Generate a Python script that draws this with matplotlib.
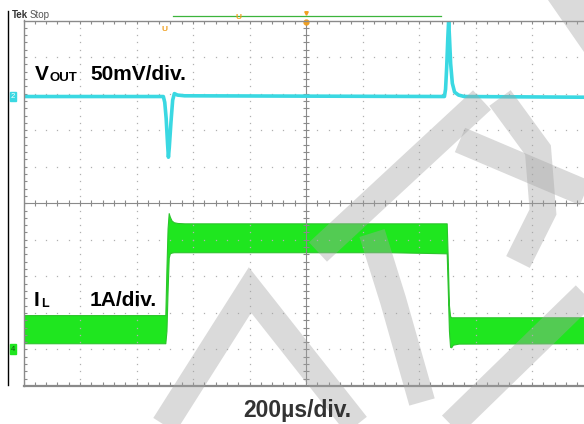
import numpy as np
import matplotlib.pyplot as plt
from matplotlib.lines import Line2D
from matplotlib.patches import Polygon

plt.rcParams['font.family'] = ['Liberation Sans', 'DejaVu Sans']

# scope settings
t_per_div = 200.0      # us/div
v_per_div = 50.0       # mV/div (ch2)
i_per_div = 1.0        # A/div  (ch4)
ch2_offset = 2.92      # div, ground marker of VOUT
ch4_offset = -3.99     # div, ground marker of IL

# VOUT trace (us, mV)
vout_t = [-1000, -505, -500, -495, -490, -487, -484, -478, -472, -466, -455, -430,
          490, 494, 498, 502, 505, 508, 512, 518, 526, 540, 560, 1000]
vout_mv = [0, 0, -8, -30, -65, -83, -70, -35, -5, 4, 2, 1,
           0, 10, 40, 80, 104, 80, 45, 18, 6, 2, 0, -1]

# IL ripple envelope (us, A)
il_t = [-1000, -498, -494, -490, -486, -482, -476, -468, -455, -430, 0, 300,
        498, 502, 506, 510, 514, 520, 540, 1000]
il_hi = [0.93, 0.93, 2.2, 3.3, 3.72, 3.62, 3.52, 3.47, 3.45, 3.44, 3.44, 3.44,
         3.44, 2.4, 1.2, 0.9, 0.87, 0.87, 0.87, 0.87]
il_lo = [0.16, 0.16, 0.5, 1.6, 2.5, 2.62, 2.64, 2.65, 2.65, 2.65, 2.65, 2.65,
         2.62, 1.6, 0.5, 0.06, 0.05, 0.12, 0.15, 0.16]

W, H = 584, 424
fig = plt.figure(figsize=(W / 100, H / 100), dpi=100)
ax = fig.add_axes([23.5 / W, 38 / H, 565 / W, 365.5 / H])
ax.set_xlim(-5, 5)
ax.set_ylim(-5, 5)
ax.set_xticks([])
ax.set_yticks([])
for s in ax.spines.values():
    s.set_color('#8a8a8a')
    s.set_linewidth(1.0)
ax.spines['bottom'].set_linewidth(1.6)

# graticule: dotted lines at each division, dots every 1/5 div
grey = '#b0b0b0'
sub = np.arange(-5, 5.01, 0.2)
for k in range(-4, 5):
    if k == 0:
        continue
    ax.plot(sub, np.full_like(sub, k), ls='none', marker='s', ms=0.9, color=grey, mec='none')
    ax.plot(np.full_like(sub, k), sub, ls='none', marker='s', ms=0.9, color=grey, mec='none')
# centre cross with minor ticks
ax.axhline(0, color='#8a8a8a', lw=0.8)
ax.axvline(0, color='#8a8a8a', lw=0.8)
ax.plot(sub, np.zeros_like(sub), ls='none', marker='|', ms=4, mew=0.8, color='#8a8a8a')
ax.plot(np.zeros_like(sub), sub, ls='none', marker='_', ms=4, mew=0.8, color='#8a8a8a')
# border ticks
ax.plot(sub, np.full_like(sub, 4.95), ls='none', marker='|', ms=3, mew=0.8, color='#8a8a8a')
ax.plot(sub, np.full_like(sub, -4.95), ls='none', marker='|', ms=3, mew=0.8, color='#8a8a8a')
ax.plot(np.full_like(sub, -4.97), sub, ls='none', marker='_', ms=3, mew=0.8, color='#8a8a8a')

# traces
cyan = '#3ad8e2'
green = '#1fe61f'
t_v = np.array(vout_t) / t_per_div
y_v = ch2_offset + np.array(vout_mv) / v_per_div
ax.plot(t_v, y_v, color=cyan, lw=2.6, solid_joinstyle='round')

t_i = np.array(il_t) / t_per_div
ax.fill_between(t_i, ch4_offset + np.array(il_lo) / i_per_div,
                ch4_offset + np.array(il_hi) / i_per_div,
                facecolor=green, edgecolor='#2cc42c', lw=0.8)

# channel ground markers
ax.text(-0.0186, ch2_offset, '2', transform=ax.get_yaxis_transform(), ha='center', va='center',
        fontsize=5.5, color='white', clip_on=False,
        bbox=dict(boxstyle='square,pad=0.15', fc=cyan, ec=cyan))
ax.text(-0.0186, ch4_offset, '4', transform=ax.get_yaxis_transform(), ha='center', va='center',
        fontsize=5.5, color='#145214', clip_on=False,
        bbox=dict(boxstyle='square,pad=0.15', fc=green, ec=green))

# trigger / record markers
orange = '#f0a020'
ax.plot([-2.35, 2.39], [5.11, 5.11], color='#3cb43c', lw=0.9, clip_on=False)
ax.text(-1.19, 5.08, 'U', color=orange, fontsize=6, fontweight='bold', ha='center', va='center', clip_on=False)
ax.text(-2.50, 4.75, 'U', color=orange, fontsize=6, fontweight='bold', ha='center', va='center')
ax.plot([0], [4.97], marker='o', ms=3.5, color=orange, clip_on=False)
ax.plot([0], [5.2], marker='v', ms=2.5, color=orange, clip_on=False)

# frame line on the left and header
fig.add_artist(Line2D([7.5 / W, 7.5 / W], [1 - 11 / H, 1 - 385 / H], color='black', lw=1.0))
fig.text(12 / W, 1 - 18 / H, 'Tek', fontsize=7, fontweight='bold', color='#333333', va='baseline')
fig.text(30 / W, 1 - 18 / H, 'Stop', fontsize=7, color='#555555', va='baseline')

# channel labels
fig.text(35 / W, 1 - 80 / H, 'V', fontsize=15, fontweight='bold', va='baseline')
fig.text(50 / W, 1 - 81 / H, 'OUT', fontsize=9.5, fontweight='bold', va='baseline')
fig.text(90 / W, 1 - 80 / H, '50mV/div.', fontsize=15, fontweight='bold', va='baseline')
fig.text(34 / W, 1 - 306 / H, 'I', fontsize=15, fontweight='bold', va='baseline')
fig.text(41 / W, 1 - 307 / H, 'L', fontsize=9, fontweight='bold', va='baseline')
fig.text(90 / W, 1 - 306 / H, '1A/div.', fontsize=15, fontweight='bold', va='baseline')

fig.text(297 / W, 1 - 417 / H, '200µs/div.', fontsize=16.5, fontweight='bold', color='#333333',
         ha='center', va='baseline')

# faint logo watermark over the screenshot (pixel coords)
def px(pts):
    return [p[0] / W for p in pts], [1 - p[1] / H for p in pts]

wm = dict(color='#a3a3a3', alpha=0.4, lw=19, solid_capstyle='butt', solid_joinstyle='miter')
strokes = [
    [(160, 432), (250, 290), (362, 432)],
    [(318, 252), (482, 100)],
    [(372, 233), (393, 300), (422, 402)],
    [(500, 98), (538, 150), (543, 212), (518, 262)],
    [(444, 432), (592, 288)],
    [(460, 140), (592, 196)],
]
for pts in strokes:
    xs, ys = px(pts)
    fig.add_artist(Line2D(xs, ys, **wm))
xs, ys = px([(548, 0), (584, 0), (584, 52)])
fig.add_artist(Polygon(list(zip(xs, ys)), closed=True, fc='#a3a3a3', ec='none', alpha=0.4))

fig.savefig('out.png', dpi=100)
